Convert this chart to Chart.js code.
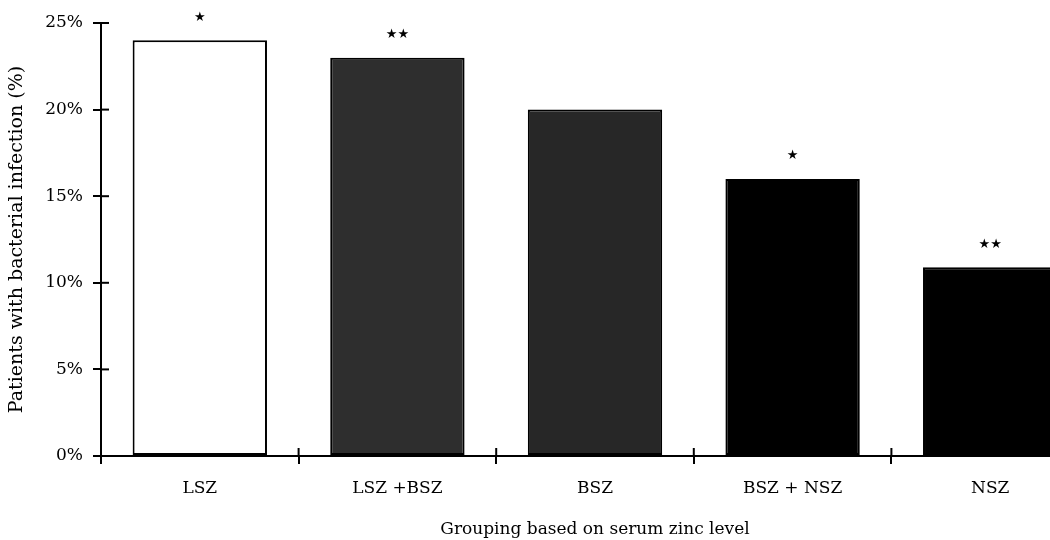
<!DOCTYPE html>
<html>
<head>
<meta charset="utf-8">
<script src="https://cdn.jsdelivr.net/npm/chart.js@4/dist/chart.umd.min.js"></script>
<style>
html,body{margin:0;padding:0;background:#fff;overflow:hidden;width:1050px;height:540px;}
#wrap{position:absolute;left:0;top:0;width:1090px;height:540px;}
</style>
</head>
<body>
<div id="wrap"><canvas id="c" width="1090" height="540"></canvas></div>
<script>
const categories = ['LSZ', 'LSZ +BSZ', 'BSZ', 'BSZ + NSZ', 'NSZ'];
const values = [24, 23, 20, 16, 10.9];
const significance = ['*', '**', '', '*', '**'];
const barColors = ['#ffffff', '#2e2e2e', '#272727', '#000000', '#000000'];
const yTicks = [0, 5, 10, 15, 20, 25];

const FONT = '"DejaVu Serif", "Liberation Serif", serif';

const crossTicks = {
  id: 'crossTicks',
  afterDraw(chart) {
    const ctx = chart.ctx;
    const x = chart.scales.x, y = chart.scales.y;
    ctx.save();
    ctx.strokeStyle = '#000';
    ctx.lineWidth = 2;
    y.ticks.forEach((t, i) => {
      const py = y.getPixelForTick(i);
      ctx.beginPath();
      ctx.moveTo(x.left, py);
      ctx.lineTo(x.left + 8, py);
      ctx.stroke();
    });
    for (let i = 0; i < categories.length - 1; i++) {
      const px = (x.getPixelForValue(i) + x.getPixelForValue(i + 1)) / 2;
      ctx.beginPath();
      ctx.moveTo(px, y.bottom);
      ctx.lineTo(px, y.bottom - 8);
      ctx.stroke();
    }
    const meta = chart.getDatasetMeta(0);
    ctx.fillStyle = '#000';
    ctx.font = '13px "DejaVu Sans", sans-serif';
    ctx.textAlign = 'center';
    ctx.textBaseline = 'middle';
    meta.data.forEach((bar, i) => {
      const s = significance[i];
      if (!s) return;
      ctx.fillText(s.replace(/\*/g, '★'), bar.x, bar.y - 23);
    });
    ctx.restore();
  }
};

new Chart(document.getElementById('c'), {
  type: 'bar',
  data: {
    labels: categories,
    datasets: [{
      data: values,
      backgroundColor: barColors,
      borderColor: '#000',
      borderWidth: 2,
      borderSkipped: false,
      barPercentage: 0.68,
      categoryPercentage: 1.0
    }]
  },
  options: {
    responsive: false,
    animation: false,
    layout: { padding: { top: 23, right: 1, left: 0, bottom: 0 } },
    plugins: { legend: { display: false }, tooltip: { enabled: false } },
    scales: {
      x: {
        offset: true,
        afterFit(scale) { scale.height = 84; },
        grid: { display: true, drawOnChartArea: false, offset: true, tickLength: 8, color: '#000', lineWidth: 2 },
        border: { display: true, color: '#000', width: 2 },
        ticks: { color: '#000', font: { family: FONT, size: 17 }, padding: 14 },
        title: { display: true, text: 'Grouping based on serum zinc level', color: '#000', font: { family: FONT, size: 17 }, padding: { top: 0, bottom: 0 } }
      },
      y: {
        min: 0, max: 25,
        afterFit(scale) { scale.width = 101; },
        afterBuildTicks(scale) { scale.ticks = yTicks.map(v => ({ value: v })); },
        grid: { display: true, drawOnChartArea: false, tickLength: 8, color: '#000', lineWidth: 2 },
        border: { display: true, color: '#000', width: 2 },
        ticks: { color: '#000', font: { family: FONT, size: 17 }, padding: 10, callback: v => v + '%' },
        title: { display: true, text: 'Patients with bacterial infection (%)', color: '#000', font: { family: FONT, size: 19 }, padding: { top: 6, bottom: 0 } }
      }
    }
  },
  plugins: [crossTicks]
});
</script>
</body>
</html>
